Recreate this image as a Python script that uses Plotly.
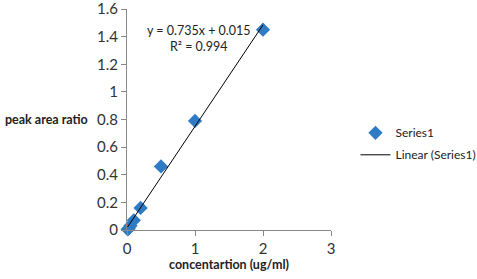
import plotly.graph_objects as go

# Calibration data
conc = [0.01, 0.025, 0.05, 0.1, 0.2, 0.5, 1.0, 2.0]
ratio = [0.005, 0.01, 0.03, 0.07, 0.16, 0.46, 0.79, 1.45]

# Linear trendline (from the chart's equation)
slope = 0.735
intercept = 0.015
fit_x = [min(conc), max(conc)]
fit_y = [slope * v + intercept for v in fit_x]

x_ticks = [0, 1, 2, 3]
y_ticks = [0, 0.2, 0.4, 0.6, 0.8, 1, 1.2, 1.4, 1.6]

FONT = 'Lato'

fig = go.Figure()

fig.add_trace(go.Scatter(
    x=conc, y=ratio, mode='markers', name='Series1',
    marker=dict(symbol='diamond', size=11, color='#2f7bc4'),
    cliponaxis=False, legendgroup='a',
))

fig.add_trace(go.Scatter(
    x=fit_x, y=fit_y, mode='lines', name='Linear (Series1)',
    line=dict(color='black', width=1),
    cliponaxis=False, legendgroup='b',
))

fig.add_annotation(
    text='y = 0.735x + 0.015<br>R² = 0.994',
    x=1.06, y=1.39, xref='x', yref='y', showarrow=False,
    font=dict(family=FONT, size=12.5, color='#222'), align='center',
)

fig.add_annotation(
    text='<b>peak area ratio</b>', x=-0.18, y=0.50, xref='paper', yref='paper',
    showarrow=False, font=dict(family=FONT, size=12.5, color='#222'),
    xanchor='right', yanchor='middle',
)

fig.update_layout(
    width=477, height=279,
    margin=dict(l=127, r=146, t=9, b=49, autoexpand=False),
    plot_bgcolor='white', paper_bgcolor='white',
    font=dict(family=FONT, size=15, color='#333'),
    showlegend=True,
    legend=dict(x=1.12, y=0.39, xanchor='left', yanchor='middle',
                traceorder='grouped', tracegroupgap=3,
                font=dict(family=FONT, size=12, color='#222')),
)

fig.update_xaxes(
    range=[0, 3], tickvals=x_ticks, ticks='outside', ticklen=5,
    showgrid=False, zeroline=False, showline=True, linecolor='#888',
    tickcolor='#888', ticklabeloverflow='allow', automargin=False,
    title=dict(text='<b>concentartion (ug/ml)</b>',
               font=dict(size=12.5, color='#222'), standoff=2),
)
fig.update_yaxes(
    range=[0, 1.6], tickvals=y_ticks, ticktext=[f'{v:g}' for v in y_ticks],
    ticks='outside', ticklen=5, showgrid=False, zeroline=False,
    showline=True, linecolor='#888', tickcolor='#888',
    ticklabeloverflow='allow', automargin=False,
)

# drop the browser's default page margin so the figure sits at the corner
fig.write_html('out.html', config={'displayModeBar': False},
               post_script="document.body.style.margin='0';")
